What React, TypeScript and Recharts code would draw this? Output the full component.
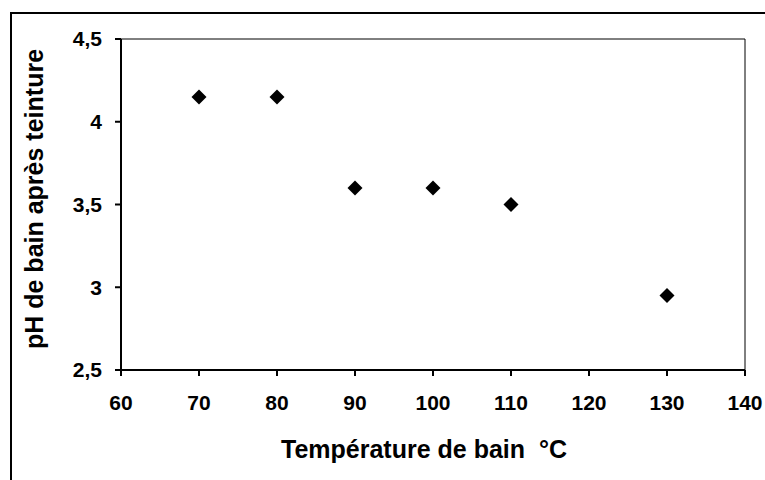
import React from 'react'
import { ScatterChart, Scatter, XAxis, YAxis, ReferenceArea, Label } from 'recharts'

// Température de bain (°C) vs pH du bain après teinture
const temperatures = [70, 80, 90, 100, 110, 130]
const phValues = [4.15, 4.15, 3.6, 3.6, 3.5, 2.95]
const xTicks = [60, 70, 80, 90, 100, 110, 120, 130, 140]
const yTicks = [2.5, 3, 3.5, 4, 4.5]

const points = temperatures.map((t, i) => ({ t, ph: phValues[i] }))

const FONT = 'Arial, "Liberation Sans", sans-serif'
const tickStyle = { fontFamily: FONT, fontSize: 21, fontWeight: 700, fill: '#000' }

// filled square-ish diamond, like the Excel marker
const Diamond = (props: any) => {
  const { cx, cy } = props
  const r = 7.5
  return <path d={`M${cx},${cy - r}L${cx + r},${cy}L${cx},${cy + r}L${cx - r},${cy}Z`} fill="#000" />
}

export default function App() {
  return (
    <div style={{ position: 'absolute', left: 0, top: 0, width: 765, height: 480, overflow: 'hidden', background: '#fff' }}>
      {/* chart frame, only top/left edges inside the picture */}
      <div style={{ position: 'absolute', left: 10, top: 12, width: 800, height: 520, border: '2px solid #000', boxSizing: 'border-box' }} />
      <ScatterChart width={765} height={480} margin={{ top: 39, right: 20, bottom: 0, left: 0 }}>
        <ReferenceArea x1={60} x2={140} y1={2.5} y2={4.5} fill="none" stroke="#000" strokeWidth={1} ifOverflow="visible" />
        <XAxis
          type="number"
          dataKey="t"
          domain={[60, 140]}
          ticks={xTicks}
          interval={0}
          height={110}
          tickSize={6}
          tickMargin={19}
          tick={tickStyle}
          stroke="#000"
          strokeWidth={2}
        >
          <Label
            content={() => (
              <text x={424} y={458} textAnchor="middle" style={{ fontFamily: FONT, fontSize: 25, fontWeight: 700 }} fill="#000">
                {'Température de bain\u00a0\u00a0°C'}
              </text>
            )}
          />
        </XAxis>
        <YAxis
          type="number"
          dataKey="ph"
          domain={[2.5, 4.5]}
          ticks={yTicks}
          interval={0}
          width={121}
          tickSize={6}
          tickMargin={13}
          tick={tickStyle}
          tickFormatter={(v: number) => String(v).replace('.', ',')}
          stroke="#000"
          strokeWidth={2}
        >
          <Label
            content={() => (
              <text
                x={43}
                y={199}
                textAnchor="middle"
                transform="rotate(-90 43 199)"
                style={{ fontFamily: FONT, fontSize: 25, fontWeight: 700 }}
                fill="#000"
              >
                pH de bain après teinture
              </text>
            )}
          />
        </YAxis>
        <Scatter data={points} shape={<Diamond />} isAnimationActive={false} />
      </ScatterChart>
    </div>
  )
}
